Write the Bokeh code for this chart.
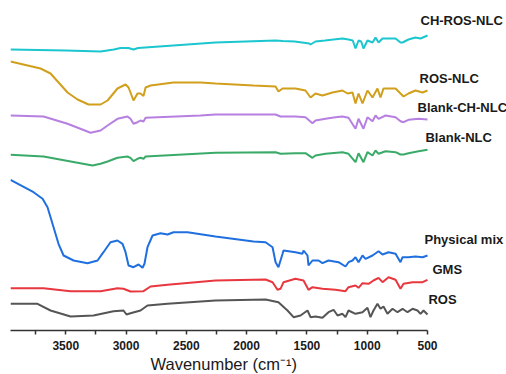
from bokeh.plotting import figure
from bokeh.models import Range1d, FixedTicker, Title
from bokeh.embed import file_html
from bokeh.resources import INLINE
from bokeh.core.properties import value

# ---------------- data (wavenumber cm-1, offset transmittance a.u.) ----------------
ch_ros_nlc_wn = [3958, 3500, 3211, 3100, 3046, 2980, 2938, 2900, 2258, 1760, 1700, 1600, 1480, 1470, 1429,
                 1350, 1279, 1205, 1155, 1120, 1097, 1072, 1050, 1031, 998, 956, 931, 906, 873, 765, 724,
                 707, 658, 600, 558, 500]
ch_ros_nlc_y = [281, 280, 279, 281, 282.5, 282.5, 281, 282.5, 288, 290, 289.5, 289, 287, 286, 289,
                290, 291, 292, 291, 290, 282, 290, 289, 282, 290, 288, 293, 288, 292, 292, 288,
                288, 291, 293, 292, 295]

ros_nlc_wn = [3958, 3709, 3626, 3485, 3402, 3311, 3211, 3153, 3071, 3004, 2979, 2938, 2905, 2880, 2855,
              2838, 2797, 2606, 2382, 2258, 1943, 1760, 1736, 1702, 1595, 1512, 1470, 1429, 1371, 1288,
              1205, 1163, 1122, 1097, 1072, 1039, 998, 956, 915, 890, 865, 765, 724, 699, 658, 600, 541, 500]
ros_nlc_y = [269, 262, 257, 238, 231, 226, 226, 230, 242, 246, 243, 230, 237, 237, 234.5,
             243, 245, 248, 248, 247, 245, 244, 239, 242, 242, 240, 233, 237, 235, 238,
             240, 237, 238, 227, 237, 227, 240, 233, 242, 233, 242, 242, 237, 234, 237, 240, 238, 240]

blank_ch_nlc_wn = [3958, 3684, 3485, 3294, 3211, 3153, 3071, 2988, 2963, 2938, 2905, 2880, 2855, 2838,
                   2382, 2258, 1760, 1719, 1595, 1512, 1454, 1429, 1346, 1263, 1205, 1155, 1097, 1072,
                   1031, 998, 956, 931, 906, 848, 765, 724, 699, 658, 575, 500]
blank_ch_nlc_y = [215, 214, 206.7, 197.7, 200, 205, 211.7, 214, 211.7, 206.7, 208.3, 210, 209, 212.7,
                  215, 216, 216, 214, 214, 213.3, 207.3, 210, 211.7, 213.3, 214, 212.7, 201.7, 211.7,
                  201.7, 213.3, 209.3, 215, 211.7, 215, 213.3, 209.3, 208.3, 210.7, 211.7, 211]

blank_nlc_wn = [3958, 3684, 3278, 3211, 3153, 3071, 2988, 2963, 2938, 2905, 2880, 2855, 2838, 2258,
                1760, 1719, 1595, 1512, 1454, 1429, 1346, 1205, 1155, 1097, 1072, 1031, 998, 956,
                931, 906, 848, 765, 724, 699, 658, 575, 500]
blank_nlc_y = [175.7, 174, 165, 166.7, 169, 172.7, 174, 172.7, 169.3, 171.7, 172.7, 171.7, 174, 177.7,
               178.3, 176.7, 177.3, 177.3, 172.7, 175, 176.7, 178.3, 176.7, 168.3, 177.3, 168.3, 178.3, 175,
               180, 176.7, 179.3, 178.3, 176, 176, 177.3, 179.3, 180.7]

phys_mix_wn = [3958, 3767, 3692, 3651, 3601, 3560, 3518, 3435, 3319, 3236, 3187, 3129, 3071, 3029, 3004,
               2979, 2938, 2896, 2863, 2847, 2822, 2780, 2714, 2656, 2606, 2490, 2258, 1943, 1843, 1785,
               1760, 1736, 1702, 1694, 1595, 1537, 1528, 1495, 1487, 1454, 1404, 1371, 1321, 1238, 1180,
               1155, 1122, 1097, 1072, 1039, 1014, 956, 906, 873, 823, 765, 724, 707, 658, 600, 541, 500]
phys_mix_y = [150.7, 138.3, 131.7, 123.3, 103.3, 86.7, 75, 70, 67.3, 70, 78.3, 88.3, 90, 86.7, 78.3,
              65, 63.3, 66, 62.7, 66.7, 83.3, 95, 97.3, 96, 98.3, 98.3, 94, 89, 88.3, 83.3,
              68.3, 63.3, 76.7, 80, 78.3, 76.7, 80, 75, 65, 70, 70, 67.3, 70, 68.3, 64,
              68.3, 70, 73.3, 68.3, 75, 71.7, 75, 79.3, 76, 78.3, 76.7, 68.3, 73.3, 73.3, 74, 73.3, 75]

gms_wn = [3958, 3684, 3460, 3211, 3071, 3021, 2963, 2855, 2797, 2656, 2258, 1843, 1785, 1744, 1719,
          1694, 1595, 1528, 1487, 1454, 1371, 1263, 1180, 1155, 1097, 1072, 1039, 989, 948, 906,
          873, 823, 765, 724, 699, 624, 541, 500]
gms_y = [42.3, 42.3, 39.3, 39.3, 42.3, 41.7, 39, 39.3, 44, 45.7, 50, 51, 48.3, 40.7, 41.7,
         48.3, 51.7, 50, 40.7, 43.3, 41.7, 40.7, 39.3, 43.3, 45, 42.7, 47.3, 46.7, 50, 52.7,
         48.3, 53.3, 50.7, 41.7, 46.7, 48.3, 48.3, 50.7]

ros_wn = [3958, 3734, 3626, 3460, 3270, 3104, 3021, 2996, 2963, 2880, 2822, 2656, 2258, 1843, 1736,
          1661, 1611, 1553, 1495, 1470, 1429, 1371, 1321, 1279, 1246, 1205, 1180, 1155, 1097, 1039,
          998, 973, 948, 915, 890, 865, 832, 790, 749, 707, 666, 624, 583, 558, 533, 500]
ros_y = [26.7, 26.7, 20, 14, 15, 19.3, 20, 16, 17.3, 20, 25, 26.7, 30, 31, 28.3,
         20, 13.3, 15, 20, 13.3, 14, 12.7, 18.3, 20.7, 15, 16.7, 13.3, 20, 16.7, 18.3,
         22.7, 13.3, 20, 26.7, 21.7, 24, 16.7, 21.7, 18.3, 21.7, 18.3, 21.7, 20, 16.7, 20, 16]

series_names = ["CH-ROS-NLC", "ROS-NLC", "Blank-CH-NLC", "Blank-NLC", "Physical mix", "GMS", "ROS"]
major_ticks = [500, 1000, 1500, 2000, 2500, 3000, 3500]
minor_ticks = [750, 1250, 1750, 2250, 2750, 3250, 3750]
x_title = "Wavenumber (cm⁻¹)"

# ---------------- styling / layout ----------------
colors = ["#1CC6CF", "#D19F1B", "#B67FE0", "#3AAA69", "#1F6FDF", "#E8373E", "#555555"]
xs = [ch_ros_nlc_wn, ros_nlc_wn, blank_ch_nlc_wn, blank_nlc_wn, phys_mix_wn, gms_wn, ros_wn]
ys = [ch_ros_nlc_y, ros_nlc_y, blank_ch_nlc_y, blank_nlc_y, phys_mix_y, gms_y, ros_y]
label_x = [558, 566, 583, 517, 525, 459, 492]
label_y = [310, 252, 223, 193, 91.5, 61, 31]

p = figure(width=506, height=374, output_backend="svg", toolbar_location=None,
           x_range=Range1d(3958, -155), y_range=Range1d(0, 330),
           min_border_left=10, min_border_right=0, min_border_top=0, min_border_bottom=44,
           outline_line_color=None, background_fill_color="white", border_fill_color="white")

p.grid.visible = False
p.yaxis.visible = False

for x, y, c in zip(xs, ys, colors):
    p.line(x, y, line_color=c, line_width=2)

p.text(x=label_x, y=label_y, text=series_names, text_font=value("Liberation Sans"),
       text_font_style="bold", text_font_size="13px", text_color="#1a1a1a",
       text_align="left", text_baseline="middle")

ax = p.xaxis[0]
ax.bounds = (500, 3958)
ax.ticker = FixedTicker(ticks=major_ticks, minor_ticks=minor_ticks)
ax.axis_line_color = "#333333"
ax.axis_line_width = 1.5
ax.major_tick_line_color = "#333333"
ax.minor_tick_line_color = "#333333"
ax.major_tick_line_width = 1.5
ax.minor_tick_line_width = 1.5
ax.major_tick_out = 4
ax.major_tick_in = 0
ax.minor_tick_out = 4
ax.minor_tick_in = 0
ax.major_label_text_font = "Liberation Sans"
ax.major_label_text_font_style = "bold"
ax.major_label_text_font_size = "12px"
ax.major_label_text_color = "#1a1a1a"
ax.major_label_standoff = 6

# axis title, left-aligned and shifted so it sits centred under the bounded axis line
p.add_layout(Title(text=x_title, align="left", offset=140, standoff=0,
                   text_font="Liberation Sans", text_font_style="normal",
                   text_font_size="16.5px", text_color="#1a1a1a"), "below")

open("out.html", "w").write(file_html(p, INLINE))
